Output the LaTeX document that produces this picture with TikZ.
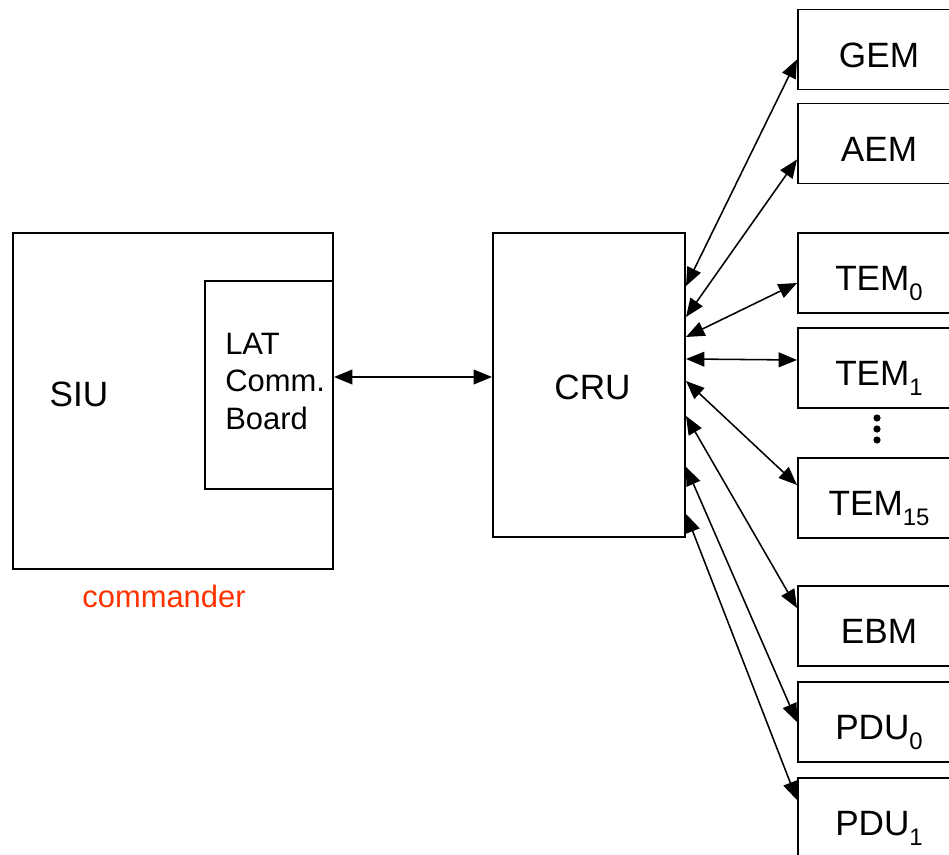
\documentclass[tikz,border=0pt]{standalone}
\usepackage{fontspec}
\setmainfont{Liberation Sans}
\usepackage{tikz}
\usetikzlibrary{arrows.meta,calc,positioning}
\definecolor{cmdred}{RGB}{255,51,0}
\newcommand\lowsub[1]{\raisebox{-0.25cm}[0pt][0pt]{\fontsize{17}{17}\selectfont #1}}

\begin{document}
\begin{tikzpicture}[x=0.025cm,y=-0.025cm,
  unit/.style={draw,line width=1.4pt,minimum width=4.05cm,minimum height=2cm,anchor=west,
    text height=0.88cm,text depth=0cm,font=\fontsize{25}{30}\selectfont},
  link/.style={{Triangle[length=4.6mm,width=3.7mm]}-{Triangle[length=4.6mm,width=3.7mm]},line width=1.1pt}]
  \clip (0,0) rectangle (949,855);
  % commander side
  \node[draw,line width=1.4pt,minimum width=8cm,minimum height=8.4cm] (siu) at (173,401) {};
  \node[draw,line width=1.4pt,minimum width=3.2cm,minimum height=5.2cm] (board) at (269,385) {};
  \node[font=\fontsize{25}{30}\selectfont,inner sep=0] (siutxt) at (79,394) {SIU};
  \node[font=\fontsize{22}{27}\selectfont,align=left,anchor=west,inner sep=0] (boardtxt) at (225,381.5) {LAT\\Comm.\\Board};
  \node[font=\fontsize{22}{27}\selectfont,text=cmdred,inner sep=0] (cmd) at (164,596) {commander};
  % crate
  \node[draw,line width=1.4pt,minimum width=4.8cm,minimum height=7.6cm] (cru) at (589,385) {};
  \node[font=\fontsize{25}{30}\selectfont,inner sep=0] (crutxt) at (592.5,387.5) {CRU};
  \foreach \n/\y/\t in {gem/49.5/GEM,aem/143.5/AEM,tem0/273/TEM\lowsub{0},tem1/368/TEM\lowsub{1},
                        tem15/498/TEM\lowsub{15},ebm/626/EBM,pdu0/722/PDU\lowsub{0},pdu1/818/PDU\lowsub{1}}
    \node[unit] (\n) at (797,\y) {\t};
  \foreach \y in {418,429,440}
    \fill (877,\y) circle[radius=0.09cm];
  % links
  \draw[link] ($(board.east)+(0,-8)$) -- ($(cru.west)+(0,-8)$);
  \foreach \n/\s/\t in {gem/54/10,aem/85/16,tem0/105/10,tem1/127/-8,tem15/149/-13,ebm/184/-18,pdu0/235/0,pdu1/282/-18}
    \draw[link] ($(cru.north east)+(0,\s)$) -- ($(\n.west)+(0,\t)$);
\end{tikzpicture}
\end{document}
